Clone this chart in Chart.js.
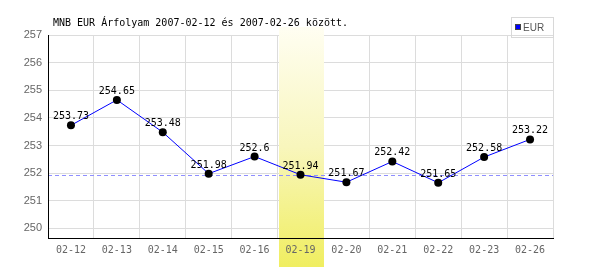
<!DOCTYPE html>
<html>
<head>
<meta charset="utf-8">
<script src="https://cdn.jsdelivr.net/npm/chart.js@4.4.1/dist/chart.umd.min.js"></script>
<style>
  body { margin: 0; background: #fff; }
  canvas { display: block; }
</style>
</head>
<body>
<canvas id="chart" width="600" height="270"></canvas>
<script>
// MNB EUR rates, 2007-02-12 .. 2007-02-26
var days = ['02-12', '02-13', '02-14', '02-15', '02-16', '02-19', '02-20', '02-21', '02-22', '02-23', '02-26'];
var eurRates = [253.73, 254.65, 253.48, 251.98, 252.6, 251.94, 251.67, 252.42, 251.65, 252.58, 253.22];
var yTicks = [250, 251, 252, 253, 254, 255, 256, 257];
var markedDay = 5;          // highlighted column (02-19)
var refRate = 251.94;       // dashed reference line
var yMin = 249.65;
var yMax = 257;
var titleText = 'MNB EUR Árfolyam 2007-02-12 és 2007-02-26 között.';
var seriesName = 'EUR';

var MONO = '"DejaVu Sans Mono", monospace';
var SANS = '"Liberation Sans", Arial, sans-serif';

var extras = {
    id: 'extras',
    beforeDatasetsDraw: function(chart) {
        var ctx = chart.ctx;
        var area = chart.chartArea;
        var x = chart.scales.x;
        var y = chart.scales.y;
        var half = (x.getPixelForValue(1) - x.getPixelForValue(0)) / 2;
        var cx = x.getPixelForValue(markedDay);

        // highlighted day band, runs down through the tick labels
        var top = area.top - 8, bottom = chart.height - 3;
        var grad = ctx.createLinearGradient(0, top, 0, bottom);
        grad.addColorStop(0, '#fffef2');
        grad.addColorStop(0.5, '#f8f6bc');
        grad.addColorStop(1, '#f0ee60');
        ctx.save();
        ctx.fillStyle = grad;
        ctx.fillRect(Math.round(cx - half) + 1, top, Math.round(half * 2) - 1, bottom - top);

        // reference line
        var ry = Math.round(y.getPixelForValue(refRate)) + 0.5;
        ctx.strokeStyle = '#8f8fff';
        ctx.lineWidth = 1;
        ctx.setLineDash([4, 3]);
        ctx.beginPath();
        ctx.moveTo(area.left, ry);
        ctx.lineTo(area.right, ry);
        ctx.stroke();
        ctx.restore();
    },
    afterDatasetsDraw: function(chart) {
        var ctx = chart.ctx;
        var meta = chart.getDatasetMeta(0);
        ctx.save();
        ctx.font = '10px ' + MONO;
        ctx.fillStyle = '#000';
        ctx.textAlign = 'center';
        ctx.textBaseline = 'alphabetic';
        meta.data.forEach(function(pt, i) {
            ctx.fillText(String(eurRates[i]), pt.x, pt.y - 6);
        });
        ctx.restore();
    },
    afterDraw: function(chart) {
        var ctx = chart.ctx;
        ctx.save();
        // title
        ctx.font = '10px ' + MONO;
        ctx.fillStyle = '#000';
        ctx.textBaseline = 'alphabetic';
        ctx.fillText(titleText, 53, 26);

        // legend
        ctx.strokeStyle = '#d8d8d8';
        ctx.lineWidth = 1;
        ctx.strokeRect(511.5, 17.5, 42, 20);
        ctx.fillStyle = '#0000ff';
        ctx.fillRect(515, 24, 6, 6);
        ctx.strokeStyle = '#444';
        ctx.strokeRect(515.5, 24.5, 5, 5);
        ctx.fillStyle = '#555';
        ctx.font = '10px ' + SANS;
        ctx.fillText(seriesName, 523, 31);
        ctx.restore();
    }
};

new Chart(document.getElementById('chart'), {
    type: 'line',
    data: {
        labels: days,
        datasets: [{
            label: seriesName,
            data: eurRates,
            borderColor: '#0000ff',
            borderWidth: 1,
            pointBackgroundColor: '#000',
            pointBorderColor: '#000',
            pointRadius: 4,
            pointBorderWidth: 0,
            tension: 0
        }]
    },
    options: {
        responsive: false,
        animation: false,
        devicePixelRatio: 1,
        layout: { padding: { left: 0, right: 47, top: 35, bottom: 10 } },
        plugins: {
            legend: { display: false },
            title: { display: false },
            tooltip: { enabled: false }
        },
        scales: {
            x: {
                offset: true,
                grid: { offset: true, color: '#dcdcdc', drawTicks: false },
                border: { color: '#000', z: 1 },
                ticks: { z: 1, padding: 6, color: '#666', font: { family: MONO, size: 10 }, maxRotation: 0, autoSkip: false },
                afterFit: function(s) { s.height = 22; }
            },
            y: {
                min: yMin,
                max: yMax,
                grid: { color: '#dcdcdc', drawTicks: false },
                border: { color: '#000', z: 1 },
                ticks: { padding: 6, color: '#666', font: { family: SANS, size: 11 } },
                afterBuildTicks: function(s) {
                    s.ticks = yTicks.map(function(v) { return { value: v }; });
                },
                afterFit: function(s) { s.width = 48; }
            }
        }
    },
    plugins: [extras]
});
</script>
</body>
</html>
